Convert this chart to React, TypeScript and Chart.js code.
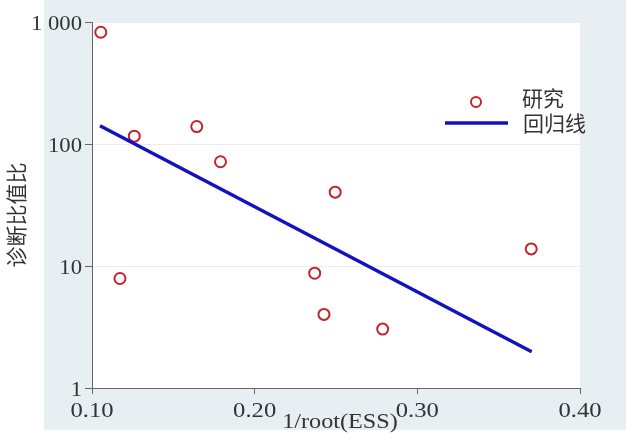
import React, { useEffect, useRef } from "react";
import { Chart, registerables } from "chart.js";

Chart.register(...registerables);

const studyX = [0.1054, 0.126, 0.1644, 0.179, 0.1172, 0.2369, 0.2426, 0.2787, 0.2495, 0.370];
const studyY = [824, 116, 139, 71.5, 7.9, 8.73, 4.01, 3.04, 40.3, 13.8];
const lineX = [0.1049, 0.3703];
const lineY = [141, 1.98];
const xTicks = [0.1, 0.2, 0.3, 0.4];
const xTickLabels = ["0.10", "0.20", "0.30", "0.40"];
const yTicks = [1, 10, 100, 1000];
const yTickLabels = ["1", "10", "100", "1 000"];
const legendLabels = ["研究", "回归线"];
const xTitle = "1/root(ESS)";
const yTitle = "诊断比值比";

const RED = "#c3242c";
const BLUE = "#1212bf";
const BG = "#e8eff2";
const TXT = "#333333";
const CJK = "'Noto Sans CJK SC', 'Noto Sans', sans-serif";
const SERIF = "'Liberation Serif', 'DejaVu Serif', serif";

function stretchText(ctx: any, text: string, x: number, y: number, align: string, font: string, sx: number) {
  ctx.save();
  ctx.translate(x, y);
  ctx.scale(sx, 1);
  ctx.font = font;
  ctx.textAlign = align;
  ctx.textBaseline = "alphabetic";
  ctx.fillText(text, 0, 0);
  ctx.restore();
}

const decor = {
  id: "decor",
  beforeDraw(chart: any) {
    const { ctx, width, height, chartArea: a } = chart;
    ctx.save();
    ctx.fillStyle = "#ffffff";
    ctx.fillRect(0, 0, width, height);
    ctx.fillStyle = BG;
    ctx.fillRect(44, 0, width - 44, 430);
    ctx.fillStyle = "#ffffff";
    ctx.fillRect(a.left, a.top, a.right - a.left, a.bottom - a.top);
    ctx.restore();
  },
  afterDraw(chart: any) {
    const { ctx, chartArea: a, scales } = chart;
    ctx.save();
    ctx.fillStyle = TXT;
    // tick labels
    xTicks.forEach((v, i) => {
      const px = scales.x.getPixelForValue(v);
      stretchText(ctx, xTickLabels[i], px, a.bottom + 29, "center", `22px ${SERIF}`, 1.12);
    });
    yTicks.forEach((v, i) => {
      const py = scales.y.getPixelForValue(v);
      stretchText(ctx, yTickLabels[i], a.left - 10, py + 7.5, "right", `21px ${SERIF}`, 1.08);
    });
    // x title
    stretchText(ctx, xTitle, (a.left + a.right) / 2 + 4, a.bottom + 40, "center", `22px ${SERIF}`, 1.1);
    // y title
    ctx.save();
    ctx.translate(16, (a.top + a.bottom) / 2 + 10);
    ctx.rotate(-Math.PI / 2);
    ctx.font = `21px ${CJK}`;
    ctx.textAlign = "center";
    ctx.textBaseline = "middle";
    ctx.fillText(yTitle, 0, 0);
    ctx.restore();
    // legend
    const lx = 476, ly1 = 102, ly2 = 123;
    ctx.strokeStyle = RED;
    ctx.lineWidth = 2;
    ctx.beginPath();
    ctx.arc(lx, ly1, 5, 0, Math.PI * 2);
    ctx.stroke();
    ctx.strokeStyle = BLUE;
    ctx.lineWidth = 3.5;
    ctx.beginPath();
    ctx.moveTo(445, ly2);
    ctx.lineTo(508, ly2);
    ctx.stroke();
    ctx.fillStyle = TXT;
    ctx.font = `21px ${CJK}`;
    ctx.textAlign = "left";
    ctx.textBaseline = "middle";
    ctx.fillText(legendLabels[0], 522, ly1 - 4);
    ctx.fillText(legendLabels[1], 523, ly2);
    ctx.restore();
  },
};

export default function App() {
  const ref = useRef<HTMLCanvasElement>(null);
  useEffect(() => {
    const chart = new Chart(ref.current as HTMLCanvasElement, {
      type: "scatter",
      data: {
        datasets: [
          {
            type: "line",
            label: legendLabels[1],
            data: lineX.map((x, i) => ({ x, y: lineY[i] })),
            borderColor: BLUE,
            borderWidth: 3.5,
            pointRadius: 0,
            fill: false,
          } as any,
          {
            label: legendLabels[0],
            data: studyX.map((x, i) => ({ x, y: studyY[i] })),
            pointStyle: "circle",
            pointRadius: 5.5,
            pointBorderWidth: 2,
            borderColor: RED,
            backgroundColor: "rgba(0,0,0,0)",
            pointBackgroundColor: "rgba(0,0,0,0)",
            pointBorderColor: RED,
          } as any,
        ],
      },
      options: {
        animation: false,
        responsive: false,
        devicePixelRatio: 1,
        layout: { padding: { top: 22, right: 46, left: 0, bottom: 0 } },
        plugins: { legend: { display: false }, tooltip: { enabled: false } },
        scales: {
          x: {
            type: "linear",
            min: 0.1,
            max: 0.4,
            afterBuildTicks: (s: any) => {
              s.ticks = xTicks.map((v) => ({ value: v }));
            },
            afterFit: (s: any) => {
              s.height = 46;
            },
            grid: { drawOnChartArea: false, tickLength: 6, tickColor: "#666", color: "#666" },
            border: { color: "#666", width: 1 },
            ticks: { display: false, autoSkip: false },
          },
          y: {
            type: "logarithmic",
            min: 1,
            max: 1000,
            afterBuildTicks: (s: any) => {
              s.ticks = yTicks.map((v) => ({ value: v }));
            },
            afterFit: (s: any) => {
              s.width = 92;
            },
            grid: {
              drawOnChartArea: true,
              tickLength: 7,
              tickColor: "#666",
              color: "#ececec",
              lineWidth: 1,
            },
            border: { color: "#666", width: 1 },
            ticks: { display: false, autoSkip: false },
          },
        },
      } as any,
      plugins: [decor],
    });
    return () => chart.destroy();
  }, []);
  return (
    <div style={{ position: "fixed", left: 0, top: 0, width: 626, height: 434 }}>
      <canvas ref={ref} width={626} height={434} style={{ width: 626, height: 434 }} />
    </div>
  );
}
